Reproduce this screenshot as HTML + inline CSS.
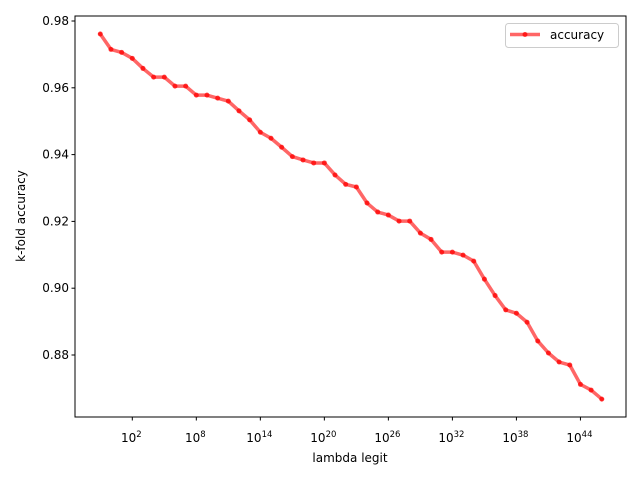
<!DOCTYPE html>
<html><head><meta charset="utf-8"><style>
body{margin:0;background:#fff}
svg{display:block;font-family:"DejaVu Sans","Liberation Sans",sans-serif}
</style></head><body>
<svg id="chart" width="640" height="480" viewBox="0 0 640 480">
<rect width="640" height="480" fill="#fff"/>
<g id="plot"></g>
</svg>
<script>
const exponents=[-1,0,1,2,3,4,5,6,7,8,9,10,11,12,13,14,15,16,17,18,19,20,21,22,23,24,25,26,27,28,29,30,31,32,33,34,35,36,37,38,39,40,41,42,43,44,45,46];
const accuracy=[0.9761,0.9715,0.9706,0.9688,0.9658,0.9632,0.9632,0.9605,0.9605,0.9578,0.9578,0.9569,0.9560,0.9531,0.9504,0.9467,0.9449,0.9422,0.9394,0.9384,0.9375,0.9375,0.9339,0.9311,0.9303,0.9255,0.9228,0.9219,0.9201,0.9201,0.9165,0.9146,0.9108,0.9108,0.9099,0.9081,0.9027,0.8978,0.8935,0.8925,0.8898,0.8842,0.8806,0.8779,0.8770,0.8712,0.8695,0.8668];
const xTickExps=[2,8,14,20,26,32,38,44];
const yTicks=[0.88,0.90,0.92,0.94,0.96,0.98];
const L=75,R=626,T=16,B=417;
function xs(e){return 132.3+(e-2)*10.67;}
function ys(v){return 21+(0.98-v)/0.02*66.8;}
const NS="http://www.w3.org/2000/svg";
const g=document.getElementById('plot');
function mk(tag,attrs,parent){const el=document.createElementNS(NS,tag);for(const k in attrs)el.setAttribute(k,attrs[k]);(parent||g).appendChild(el);return el;}
// line
let d=exponents.map((e,i)=>(i?'L':'M')+xs(e).toFixed(2)+','+ys(accuracy[i]).toFixed(2)).join(' ');
const line=mk('path',{d:d,fill:'none',stroke:'rgba(255,0,0,0.6)','stroke-width':3.5,'stroke-linejoin':'round','stroke-linecap':'square'});


exponents.forEach((e,i)=>{
 const c=mk('circle',{cx:xs(e),cy:ys(accuracy[i]),r:2.5,fill:'rgba(255,0,0,0.75)'});
 
 
});
// axes frame
const fr=mk('rect',{x:L,y:T,width:R-L,height:B-T,fill:'none',stroke:'#000','stroke-width':1});


// x ticks
xTickExps.forEach(e=>{
 const x=xs(e);
 const tk=mk('line',{x1:x,x2:x,y1:B,y2:B+3.5,stroke:'#000'});
 
 
 const t=mk('text',{x:x-1,y:B+25,'text-anchor':'middle','font-size':12});
 
 
 t.textContent='10';
 const s=mk('tspan',{dy:-5,'font-size':8.5},t);
 s.textContent=String(e);
});
// y ticks
yTicks.forEach(v=>{
 const y=ys(v);
 const tk=mk('line',{x1:L-3.5,x2:L,y1:y,y2:y,stroke:'#000'});
 
 
 const t=mk('text',{x:L-6,y:y+4,'text-anchor':'end','font-size':12});
 
 
 t.textContent=v.toFixed(2);
});
</script>
<svg width="0" height="0"></svg>
<div style="position:absolute;left:0;top:0;width:640px;height:480px;pointer-events:none">
<svg width="640" height="480" style="font-family:'DejaVu Sans','Liberation Sans',sans-serif">
<text x="350" y="462" text-anchor="middle" font-size="12">lambda legit</text>
<text transform="translate(25,216) rotate(-90)" text-anchor="middle" font-size="12">k-fold accuracy</text>
<g>
<rect x="505.5" y="23.5" width="113" height="24" rx="3" fill="#fff" stroke="#ccc"/>
<line x1="510" x2="540" y1="34.5" y2="34.5" stroke="rgba(255,0,0,0.6)" stroke-width="3.5"/>
<circle cx="525" cy="34.5" r="2.5" fill="rgba(255,0,0,0.75)"/>
<text x="550" y="39" font-size="12">accuracy</text>
</g>
</svg></div>
</body></html>
